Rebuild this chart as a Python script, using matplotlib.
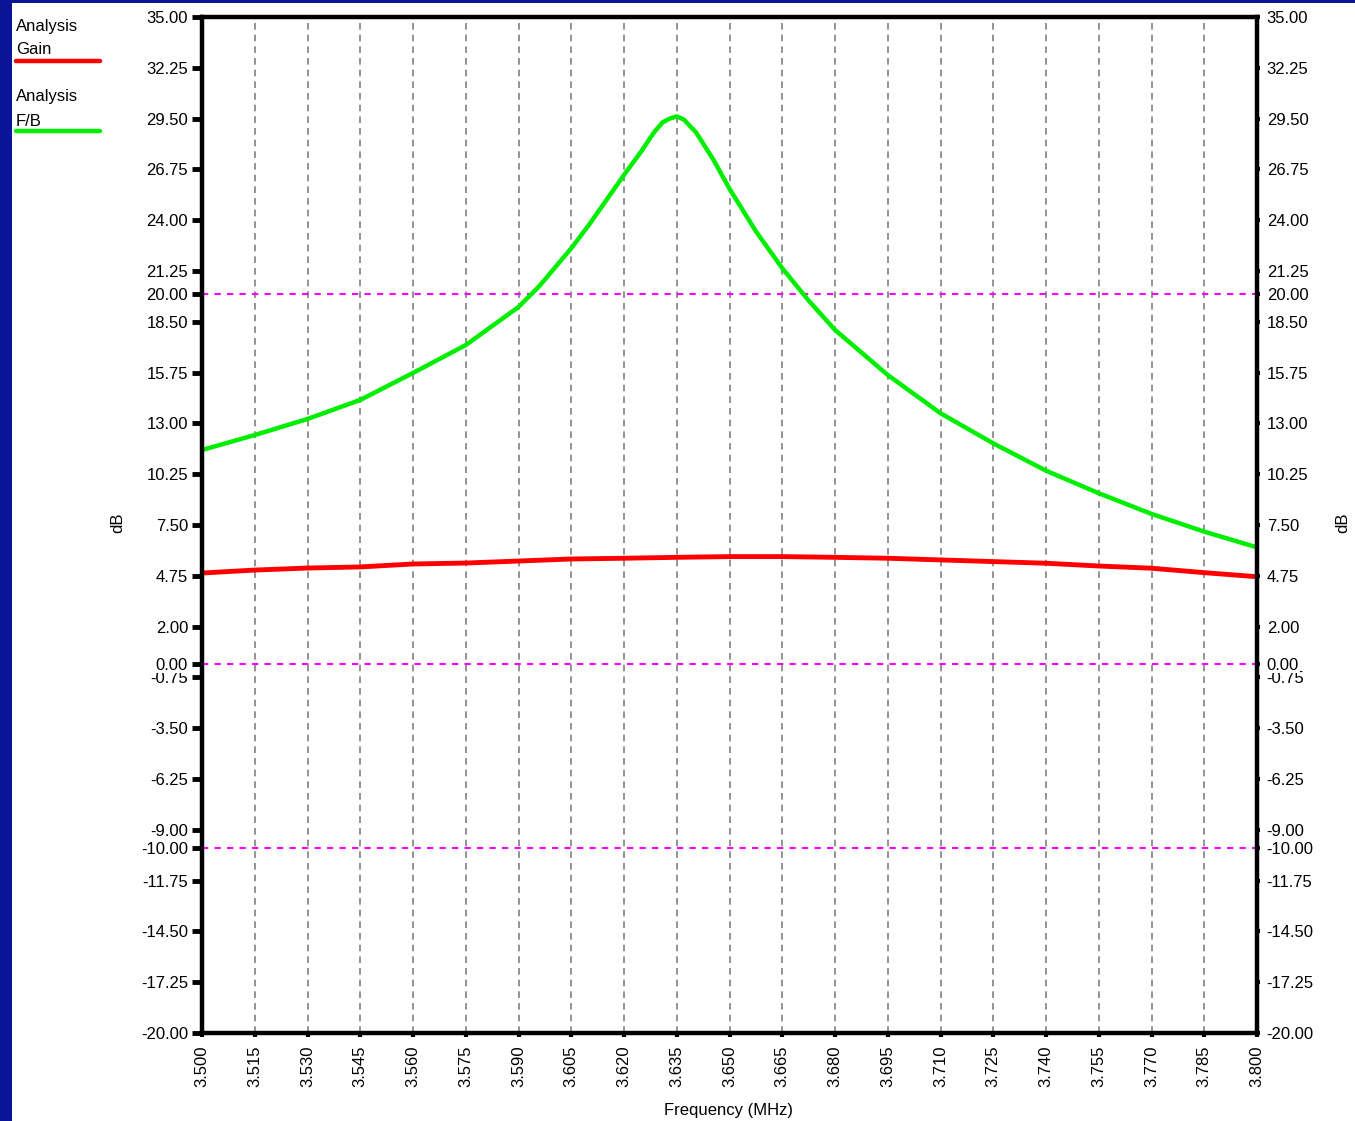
import matplotlib
matplotlib.use('Agg')
import matplotlib.pyplot as plt
from matplotlib.lines import Line2D
from matplotlib.patches import Rectangle

plt.rcParams['font.family'] = ['Liberation Sans', 'DejaVu Sans']

# frequency (MHz) for the F/B trace
fb_freq = [3.500, 3.515, 3.530, 3.545, 3.560, 3.575, 3.590, 3.596, 3.605,
           3.610, 3.615, 3.620, 3.625, 3.6285, 3.631, 3.633, 3.635, 3.637,
           3.6405, 3.6455, 3.650, 3.6575, 3.665, 3.6725, 3.680, 3.695,
           3.710, 3.725, 3.740, 3.755, 3.770, 3.785, 3.800]
fb_db = [11.56, 12.37, 13.24, 14.27, 15.73, 17.24, 19.30, 20.45, 22.48,
         23.74, 25.09, 26.45, 27.75, 28.75, 29.30, 29.50, 29.62, 29.45,
         28.75, 27.25, 25.70, 23.40, 21.40, 19.65, 18.06, 15.62,
         13.55, 11.92, 10.44, 9.22, 8.10, 7.14, 6.29]

# frequency (MHz) for the gain trace
gain_freq = [3.500, 3.515, 3.530, 3.545, 3.560, 3.575, 3.590, 3.605, 3.620,
             3.635, 3.650, 3.665, 3.680, 3.695, 3.710, 3.725, 3.740, 3.755,
             3.770, 3.785, 3.800]
gain_db = [4.90, 5.06, 5.17, 5.23, 5.39, 5.44, 5.55, 5.66, 5.70, 5.75, 5.79,
           5.79, 5.75, 5.70, 5.61, 5.52, 5.43, 5.28, 5.16, 4.92, 4.70]

x_ticks = [3.500 + 0.015 * i for i in range(21)]
y_ticks = [35 - 2.75 * i for i in range(21)]
ref_lines = [20.0, 0.0, -10.0]

FIG_W, FIG_H = 1355, 1121

fig = plt.figure(figsize=(FIG_W / 100, FIG_H / 100), dpi=100)
fig.patch.set_facecolor('#0a1496')
fig.patches.append(Rectangle((12 / FIG_W, 0), 1 - 12 / FIG_W, 1 - 3 / FIG_H,
                             transform=fig.transFigure, facecolor='white',
                             edgecolor='none', zorder=-10))

ax = fig.add_axes([202 / FIG_W, 1 - 1033 / FIG_H, 1055 / FIG_W, 1016 / FIG_H])
ax.set_xlim(3.5, 3.8)
ax.set_ylim(-20, 35)

# grid: vertical dashed grey, horizontal magenta reference lines
for xv in x_ticks[1:-1]:
    ax.axvline(xv, color='#808080', lw=1.2, ls=(0, (4, 3)), zorder=1)
for yv in ref_lines:
    ax.axhline(yv, color='#ff00ff', lw=1.5, ls=(0, (3, 3)), zorder=1)

ax.plot(gain_freq, gain_db, color='#ff0000', lw=3.5, zorder=3,
        solid_capstyle='butt')
ax.plot(fb_freq, fb_db, color='#00ee00', lw=3.2, zorder=4,
        solid_capstyle='butt', solid_joinstyle='round')

for s in ax.spines.values():
    s.set_linewidth(3.2)
    s.set_zorder(5)

all_y = y_ticks + ref_lines
ax.set_yticks(all_y)
ax.set_yticklabels(['%.2f' % v for v in all_y])
ax.set_xticks(x_ticks)
ax.set_xticklabels(['%.3f' % v for v in x_ticks], rotation=90)
ax.tick_params(axis='y', direction='out', length=7, width=3.5, pad=3,
               labelsize=12, colors='black')
ax.tick_params(axis='x', direction='out', length=3, width=3, pad=6,
               labelsize=12)
for lab in ax.get_yticklabels():
    if lab.get_text() == '0.00':
        lab.set_bbox(dict(facecolor='white', edgecolor='none', pad=0.5))

ax2 = ax.twinx()
ax2.set_ylim(-20, 35)
ax2.set_yticks(all_y)
ax2.set_yticklabels(['%.2f' % v for v in all_y])
ax2.tick_params(axis='y', direction='out', length=2, width=3, pad=5,
                labelsize=12)
for lab in ax2.get_yticklabels():
    if lab.get_text() == '0.00':
        lab.set_bbox(dict(facecolor='white', edgecolor='none', pad=0.5))
for s in ax2.spines.values():
    s.set_visible(False)

fig.text(728 / FIG_W, 1 - 1111 / FIG_H, 'Frequency (MHz)', ha='center',
         va='center', fontsize=12)
fig.text(118 / FIG_W, 1 - 523 / FIG_H, 'dB', ha='center', va='center',
         rotation=90, fontsize=12)
fig.text(1343 / FIG_W, 1 - 523 / FIG_H, 'dB', ha='center', va='center',
         rotation=90, fontsize=12)

# legend at top left
legend_items = [('Analysis', 'Gain', '#ff0000', 27, 50, 61),
                ('Analysis', 'F/B', '#00ee00', 97, 121, 131)]
for top, bottom, col, y1, y2, yl in legend_items:
    fig.text(16 / FIG_W, 1 - y1 / FIG_H, top, ha='left', va='center',
             fontsize=12)
    fig.text(16 / FIG_W, 1 - y2 / FIG_H, bottom, ha='left', va='center',
             fontsize=12)
    fig.add_artist(Line2D([16 / FIG_W, 100 / FIG_W],
                          [1 - yl / FIG_H, 1 - yl / FIG_H],
                          transform=fig.transFigure, color=col, lw=3.2,
                          solid_capstyle='round'))

fig.savefig('out.png', dpi=100, facecolor=fig.get_facecolor())
